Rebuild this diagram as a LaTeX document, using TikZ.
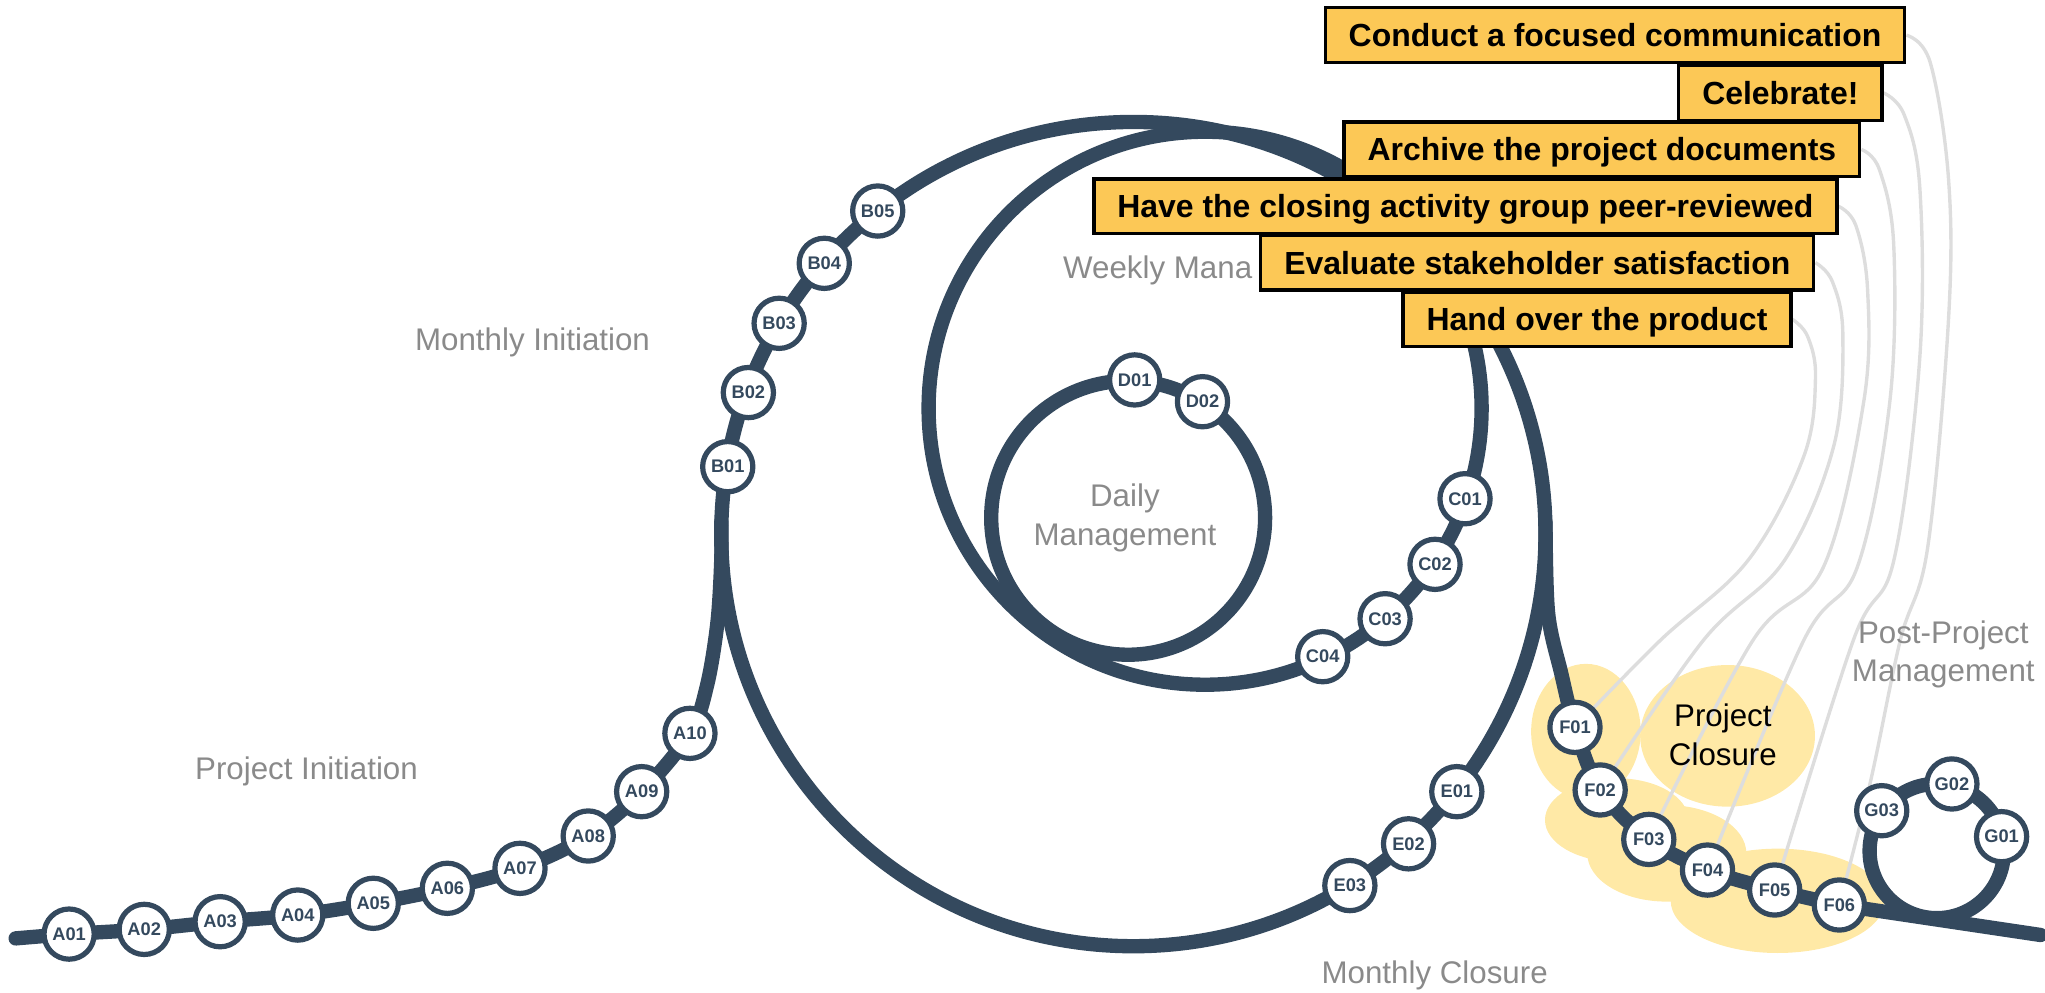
\documentclass[tikz,border=0pt]{standalone}
\usepackage{fontspec}
\setmainfont{Liberation Sans}
\pgfdeclarelayer{blobl}
\pgfdeclarelayer{linkl}
\pgfdeclarelayer{ropel}
\pgfsetlayers{blobl,linkl,ropel,main}
\definecolor{ropec}{RGB}{52,73,94}
\definecolor{boxy}{RGB}{252,200,86}
\definecolor{blobc}{RGB}{255,233,166}
\definecolor{labc}{RGB}{138,138,138}
\definecolor{connc}{RGB}{221,221,221}
\begin{document}
\begin{tikzpicture}[x=1pt,y=-1pt,
  stage/.style={circle,draw=ropec,line width=4pt,fill=white,minimum size=38.5pt,inner sep=0pt,text=ropec,font=\fontsize{14}{15}\selectfont\bfseries},
  task/.style={draw=black,line width=2.5pt,fill=boxy,anchor=east,inner xsep=18pt,inner ysep=0pt,minimum height=42pt,text height=17.5pt,text depth=0pt,font=\fontsize{24.5}{29}\selectfont\bfseries},
  lbl/.style={text=labc,font=\fontsize{24}{29.5}\selectfont,inner sep=0pt},
  ropeline/.style={draw=ropec,line width=11pt,line cap=round,line join=round},
  link/.style={draw=connc,line width=2.6pt}]
\useasboundingbox (0,0) rectangle (1568,761);

% ---- stage nodes ----
\node[stage] (A01) at (53,716.2) {A01};
\node[stage] (A02) at (110.6,712.6) {A02};
\node[stage] (A03) at (168.8,706.7) {A03};
\node[stage] (A04) at (228.3,701.6) {A04};
\node[stage] (A05) at (286.2,692.6) {A05};
\node[stage] (A06) at (343,681.1) {A06};
\node[stage] (A07) at (398.7,665.8) {A07};
\node[stage] (A08) at (451,641) {A08};
\node[stage] (A09) at (492,607) {A09};
\node[stage] (A10) at (529,562.3) {A10};
\node[stage] (B01) at (558,357.8) {B01};
\node[stage] (B02) at (573.8,301) {B02};
\node[stage] (B03) at (597.4,247.9) {B03};
\node[stage] (B04) at (632,201.9) {B04};
\node[stage] (B05) at (673,161.8) {B05};
\node[stage] (C01) at (1123.3,382.4) {C01};
\node[stage] (C02) at (1100.3,432.7) {C02};
\node[stage] (C03) at (1062,474.4) {C03};
\node[stage] (C04) at (1014.2,503.5) {C04};
\node[stage] (D01) at (870,291.3) {D01};
\node[stage] (D02) at (922,308) {D02};
\node[stage] (E01) at (1117,607) {E01};
\node[stage] (E02) at (1080,647) {E02};
\node[stage] (E03) at (1035,679) {E03};
\node[stage] (F01) at (1207.6,557.7) {F01};
\node[stage] (F02) at (1226.9,605.7) {F02};
\node[stage] (F03) at (1264.2,643.6) {F03};
\node[stage] (F04) at (1309.2,667.1) {F04};
\node[stage] (F05) at (1360.7,682.4) {F05};
\node[stage] (F06) at (1410.3,693.9) {F06};
\node[stage] (G01) at (1534.7,641.5) {G01};
\node[stage] (G02) at (1496.6,601.1) {G02};
\node[stage] (G03) at (1442.8,621.6) {G03};

% ---- labels ----
\node[lbl,anchor=base] (lmi) at (408.3,268.4) {Monthly Initiation};
\node[lbl,anchor=base] (lpi) at (235,597.5) {Project Initiation};
\node[lbl,anchor=base west] (lwm) at (815,213.4) {Weekly Mana};
\node[lbl,align=center] (ldm) at (862.5,397.2) {Daily\\Management};
\node[lbl,anchor=base] (lmc) at (1100,754) {Monthly Closure};
\node[lbl,align=center] (lpp) at (1490,501.9) {Post-Project\\Management};
\node[lbl,align=center,text=black] (lpc) at (1321,563.3) {Project\\Closure};

% ---- task boxes ----
\node[task] (t1) at (1461.75,27) {Conduct a focused communication};
\node[task] (t2) at (1444.25,71.2) {Celebrate!};
\node[task] (t3) at (1427.2,114.6) {Archive the project documents};
\node[task] (t4) at (1409.7,158.2) {Have the closing activity group peer-reviewed};
\node[task] (t5) at (1392,201.4) {Evaluate stakeholder satisfaction};
\node[task] (t6) at (1374.4,244.9) {Hand over the product};

% ---- project closure blob ----
\begin{pgfonlayer}{blobl}
\fill[blobc] (1216,561) ellipse[x radius=42,y radius=52];
\fill[blobc] (1324.6,564.2) ellipse[x radius=67,y radius=54.3];
\fill[blobc] (1239.6,628.7) ellipse[x radius=55,y radius=32];
\fill[blobc] (1278,654.3) ellipse[x radius=61,y radius=37];
\fill[blobc] (1363,690.7) ellipse[x radius=82,y radius=40];
\end{pgfonlayer}

% ---- grey links ----
\begin{pgfonlayer}{linkl}
\draw[link] plot[smooth,tension=0.6] coordinates {(t6.east) (1386,258) (1392,290) (1383,350) (1340,430) (1273,491) (F01.center)};
\draw[link] plot[smooth,tension=0.6] coordinates {(t5.east) (1405,216) (1413,257) (1406,342) (1368,430) (1306,491) (F02.center)};
\draw[link] plot[smooth,tension=0.6] coordinates {(t4.east) (1423,173) (1432,223) (1429,308) (1398,435) (1344,491) (F03.center)};
\draw[link] plot[smooth,tension=0.6] coordinates {(t3.east) (1441,130) (1452,188) (1449,308) (1424,435) (1383,491) (F04.center)};
\draw[link] plot[smooth,tension=0.6] coordinates {(t2.east) (1460,88) (1472,144) (1472,274) (1452,430) (1421,491) (F05.center)};
\draw[link] plot[smooth,tension=0.6] coordinates {(t1.east) (1480,48) (1494,137) (1494,245) (1478,420) (1457,491) (1434,600) (F06.center)};
\end{pgfonlayer}

% ---- rope ----
\begin{pgfonlayer}{ropel}
\coordinate (O) at (869,409.5);
\coordinate (st) at (12,719.5);
\coordinate (en) at (1564.6,716.9);
\draw[ropeline] plot[smooth,tension=0.55] coordinates {(st) (A01.center) (A02.center) (A03.center) (A04.center) (A05.center) (A06.center) (A07.center) (A08.center) (A09.center) (A10.center) (542,526) (550,478) (553,430) (553,400)};
\draw[ropeline] (O) circle[radius=316];
\draw[ropeline] (924,313) circle[radius=212];
\draw[ropeline] (865,397) circle[radius=105];
\draw[ropeline] (1485,652.5) circle[radius=51.5];
\draw[ropeline] plot[smooth,tension=0.55] coordinates {(1185,400) (1187,470) (1197,516) (F01.center) (F02.center) (F03.center) (F04.center) (F05.center) (F06.center)} -- (en);
\end{pgfonlayer}
\end{tikzpicture}
\end{document}
